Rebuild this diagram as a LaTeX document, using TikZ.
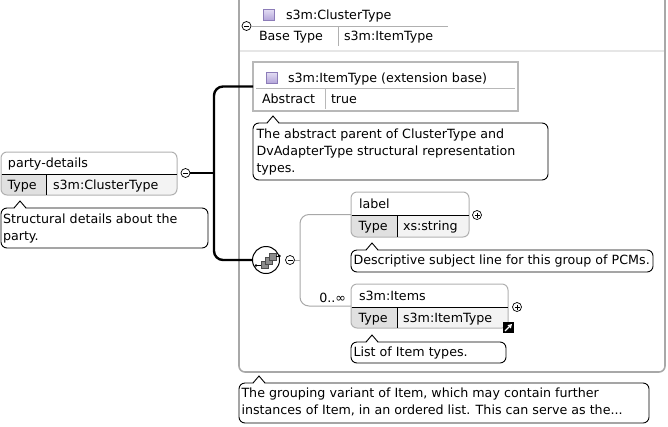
\documentclass[tikz,border=0pt]{standalone}
\usepackage{fontspec}
\setmainfont{DejaVu Sans}
\usetikzlibrary{arrows.meta}
\definecolor{boxgray}{HTML}{B0B0B0}
\definecolor{innergray}{HTML}{B8B8B8}
\definecolor{outergray}{HTML}{A8A8A8}
\definecolor{typecell}{HTML}{E0E0E0}
\definecolor{valcell}{HTML}{F3F3F3}
\definecolor{lav}{HTML}{B4A6DA}
\definecolor{lavlight}{HTML}{E4DEF4}
\definecolor{lavdark}{HTML}{8C7CB8}
\definecolor{conngray}{HTML}{A8A8A8}
\definecolor{faint}{HTML}{E6E6E6}
\definecolor{seqgray}{HTML}{8C8C8C}
\newcommand\notch[2]{%
  \fill[white] (#1-6,#2+1.2) -- (#1,#2-7) -- (#1+6,#2+1.2) -- cycle;
  \draw[black,line width=0.9pt] (#1-6,#2) -- (#1,#2-7) -- (#1+6,#2);}
\begin{document}
\begin{tikzpicture}[x=1pt,y=-1pt,
  every node/.style={inner sep=0pt, outer sep=0pt},
  txt/.style={anchor=base west, font=\fontsize{12.67}{17}\selectfont},
  ntxt/.style={anchor=north west, align=left, font=\fontsize{12.67}{17}\selectfont},
  elbox/.style={draw=boxgray, line width=1pt, rounded corners=6pt, anchor=north west},
  note/.style={draw=black, line width=0.9pt, rounded corners=6pt, fill=white, anchor=north west},
  thickconn/.style={draw=black, line width=2.4pt},
  grayconn/.style={draw=conngray, line width=1pt},
  tog/.style={circle, draw=black, line width=0.7pt, fill=white, minimum size=9pt},
  togline/.style={line width=0.7pt},
  lavsq/.style={draw=lavdark, line width=0.6pt, minimum size=11pt, top color=lavlight, bottom color=lav},
  seqsq/.style={draw=black!70, line width=0.5pt, fill=seqgray, minimum size=6.5pt},
]
\useasboundingbox (0,0) rectangle (668,426);

% ---------- outer complex type box ----------
\draw[outergray, line width=1.6pt, rounded corners=6pt] (239,-5) -- (239,372) -- (665,372) -- (665,-5);
\draw[faint, line width=2pt] (240,50.5) -- (664,50.5);

% header of s3m:ClusterType
\node[lavsq] (sq1) at (268.5,14.5) {};
\node[txt] (ctname) at (286,19) {s3m:ClusterType};
\node[tog] (ctminus) at (246.5,26) {};
\draw[togline] (ctminus.center) +(-2.5,0) -- +(2.5,0);
\draw[boxgray, line width=1pt] (ctminus.east) -- (448,26);
\draw[boxgray, line width=1pt] (338.5,26) -- (338.5,46);
\node[txt] (ctbase) at (259,40.5) {Base Type};
\node[txt] (ctbaseval) at (344,40.5) {s3m:ItemType};

% ---------- extension base box ----------
\node[draw=innergray, line width=2.5pt, anchor=north west, minimum width=265pt, minimum height=49pt] (ibox) at (253,62) {};
\node[lavsq] (sq2) at (271.5,77.5) {};
\node[txt] (ibname) at (288,82) {s3m:ItemType (extension base)};
\draw[innergray, line width=1pt] (256,88) -- (515,88);
\draw[innergray, line width=1pt] (325,88) -- (325,109);
\node[txt] (ibabs) at (262,103) {Abstract};
\node[txt] (ibabsval) at (331,103) {true};

\node[note, minimum width=295pt, minimum height=57pt] (absnote) at (253,123) {};
\notch{273}{123}
\node[ntxt] (abstxt) at (256.5,126.1) {\strut The abstract parent of ClusterType and\\DvAdapterType structural representation\\types.};

% ---------- party-details element ----------
\begin{scope}
  \clip[rounded corners=6pt] (1,152) rectangle (177,195);
  \fill[typecell] (1,174) rectangle (46,195);
  \fill[valcell] (46,174) rectangle (177,195);
\end{scope}
\node[elbox, minimum width=176pt, minimum height=43pt] (pd) at (1,152) {};
\draw[black, line width=0.8pt] (1.5,174) -- (176.5,174);
\draw[black, line width=0.8pt] (46,174) -- (46,194.5);
\node[txt] (pdname) at (8,167) {party-details};
\node[txt] (pdtype) at (7.5,189) {Type};
\node[txt] (pdtypeval) at (53,189) {s3m:ClusterType};
\node[tog] (pdminus) at (185.5,173) {};
\draw[togline] (pdminus.center) +(-2.5,0) -- +(2.5,0);

\node[note, minimum width=207pt, minimum height=40pt] (pdnote) at (1,208) {};
\notch{20}{208}
\node[ntxt] (pdtxt) at (3,211.1) {\strut Structural details about the\\party.};

% ---------- sequence ----------
\node[circle, draw=black, line width=1pt, fill=white, minimum size=27pt] (seq) at (266,260) {};
\draw[black, line width=0.8pt] (256,265.5) -- (262,265.5);
\fill[black] (256,265.5) circle (1.4pt);
\node[seqsq] (sqa) at (264.5,264.5) {};
\node[seqsq] (sqb) at (268.5,260.5) {};
\node[seqsq] (sqc) at (272.5,256.5) {};
\draw[black, line width=0.8pt] (276,256) -- (279.5,256);
\fill[black] (279.5,256) circle (1.4pt);
\node[tog] (seqminus) at (290,260) {};
\draw[togline] (seqminus.center) +(-2.5,0) -- +(2.5,0);

% ---------- label element ----------
\begin{scope}
  \clip[rounded corners=6pt] (351,192) rectangle (469,237);
  \fill[typecell] (351,215) rectangle (397,237);
  \fill[valcell] (397,215) rectangle (469,237);
\end{scope}
\node[elbox, minimum width=118pt, minimum height=45pt] (lab) at (351,192) {};
\draw[black, line width=0.8pt] (351.5,215) -- (468.5,215);
\draw[black, line width=0.8pt] (397,215) -- (397,236.5);
\node[txt] (labname) at (359,208) {label};
\node[txt] (labtype) at (358.5,230) {Type};
\node[txt] (labtypeval) at (403,230) {xs:string};
\node[tog] (labplus) at (477,215) {};
\draw[togline] (labplus.center) +(-2.5,0) -- +(2.5,0);
\draw[togline] (labplus.center) +(0,-2.5) -- +(0,2.5);

\node[note, minimum width=302pt, minimum height=22pt] (labnote) at (351,250) {};
\notch{372}{250}
\node[ntxt] (labtxt) at (353.5,252.1) {\strut Descriptive subject line for this group of PCMs.};

% ---------- s3m:Items element ----------
\begin{scope}
  \clip[rounded corners=6pt] (351,284) rectangle (508,328);
  \fill[typecell] (351,307) rectangle (397,328);
  \fill[valcell] (397,307) rectangle (508,328);
\end{scope}
\node[elbox, minimum width=157pt, minimum height=44pt] (items) at (351,284) {};
\draw[black, line width=0.8pt] (351.5,307) -- (507.5,307);
\draw[black, line width=0.8pt] (397,307) -- (397,327.5);
\node[txt] (itemsname) at (359,300) {s3m:Items};
\node[txt] (itemstype) at (358.5,322) {Type};
\node[txt] (itemstypeval) at (403,322) {s3m:ItemType};
\node[tog] (itemsplus) at (517,307) {};
\draw[togline] (itemsplus.center) +(-2.5,0) -- +(2.5,0);
\draw[togline] (itemsplus.center) +(0,-2.5) -- +(0,2.5);
\node[fill=black, minimum size=10.5pt] (shortcut) at (508.5,327.5) {};
\draw[white, line width=1.1pt, -{Triangle[length=4pt,width=4.5pt]}] (505,331) -- (512,324);
\node[txt, anchor=base east] (occ) at (346,302) {0..∞};

\node[note, minimum width=155pt, minimum height=21pt] (itemsnote) at (351,342) {};
\notch{372}{342}
\node[ntxt] (itemstxt) at (353.5,344.1) {\strut List of Item types.};

% ---------- connectors ----------
\coordinate (j1) at (214,173);
\draw[thickconn] (pdminus.east) -- (j1);
\draw[thickconn, rounded corners=9pt] (ibox.west) -| (j1) |- (seq.west);
\coordinate (j2) at (300,260);
\draw[grayconn] (seqminus.east) -- (j2);
\draw[grayconn, rounded corners=9pt] (lab.west) -| (j2) |- (items.west);

% ---------- bottom annotation ----------
\node[note, minimum width=410pt, minimum height=40pt] (groupnote) at (239,383) {};
\notch{259}{383}
\node[ntxt] (grouptxt) at (241.5,385.1) {\strut The grouping variant of Item, which may contain further\\instances of Item, in an ordered list. This can serve as the...};
\end{tikzpicture}
\end{document}
